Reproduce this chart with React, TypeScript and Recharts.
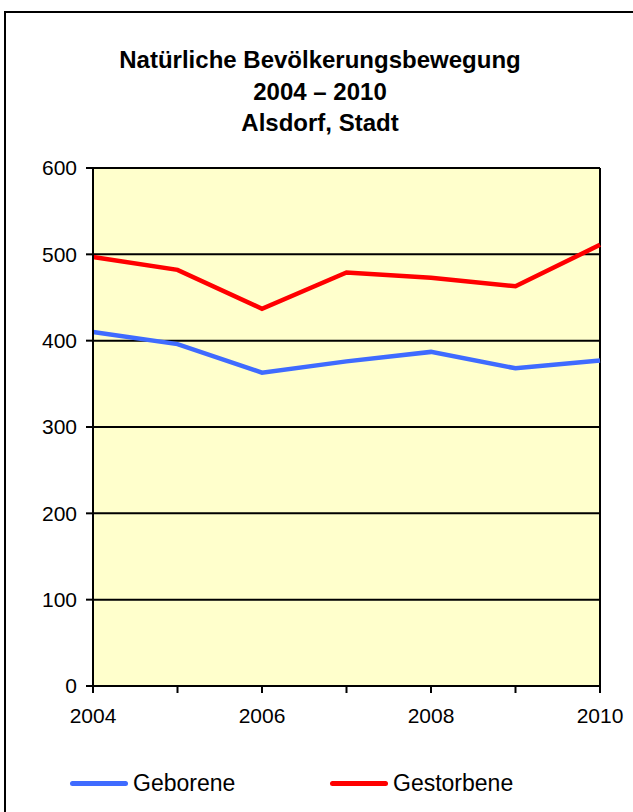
import { LineChart, Line, XAxis, YAxis, CartesianGrid, ReferenceLine, Legend } from "recharts";

const years = [2004, 2005, 2006, 2007, 2008, 2009, 2010];
const geborene = [410, 396, 363, 376, 387, 368, 377];
const gestorbene = [497, 482, 437, 479, 473, 463, 511];
const yTicks = [0, 100, 200, 300, 400, 500, 600];
const titleLines = ["Natürliche Bevölkerungsbewegung", "2004 – 2010", "Alsdorf, Stadt"];

const seriesInfo = [
  { key: "geborene", name: "Geborene", color: "#3F6BFF" },
  { key: "gestorbene", name: "Gestorbene", color: "#FF0000" },
];

const data = years.map((year, i) => ({
  year,
  geborene: geborene[i],
  gestorbene: gestorbene[i],
}));

const FONT = '"Liberation Sans", Arial, sans-serif';

// legend drawn in the bottom band, two entries side by side
const LegendContent = () => (
  <div style={{ position: "relative", height: 30, fontFamily: FONT, fontSize: 23 }}>
    {seriesInfo.map((s, i) => (
      <div
        key={s.key}
        style={{
          position: "absolute",
          left: i === 0 ? 70 : 330,
          top: 0,
          display: "flex",
          alignItems: "center",
          height: 30,
        }}
      >
        <span
          style={{
            display: "inline-block",
            width: 58,
            height: 5,
            borderRadius: 3,
            background: s.color,
            marginRight: 5,
          }}
        />
        <span style={{ color: "#000" }}>{s.name}</span>
      </div>
    ))}
  </div>
);

export default function App() {
  return (
    <div style={{ position: "absolute", left: 0, top: 0, width: 633, height: 812, overflow: "hidden", background: "#fff" }}>
      {/* outer frame: only top and left edges fall inside the picture */}
      <div style={{ position: "absolute", left: 4, top: 11, width: 629, height: 2, background: "#000", zIndex: 2 }} />
      <div style={{ position: "absolute", left: 4, top: 11, width: 2, height: 801, background: "#000", zIndex: 2 }} />
      <div
        style={{
          position: "absolute",
          left: 0,
          top: 44,
          width: 640,
          textAlign: "center",
          fontFamily: FONT,
          fontWeight: "bold",
          fontSize: 24,
          lineHeight: "31.5px",
          color: "#000",
        }}
      >
        {titleLines.map((t) => (
          <div key={t}>{t}</div>
        ))}
      </div>
      <div style={{ position: "absolute", left: 0, top: 0 }}>
        <LineChart width={633} height={812} data={data} margin={{ top: 168, right: 33, left: 33, bottom: 86 }}>
          <CartesianGrid vertical={false} stroke="#000" strokeWidth={2} fill="#FFFFCC" fillOpacity={1} />
          <XAxis
            type="number"
            dataKey="year"
            domain={[2004, 2010]}
            ticks={years}
            tickFormatter={(v: number) => (v % 2 === 0 ? String(v) : "")}
            height={40}
            tickSize={7}
            tickMargin={15}
            axisLine={{ stroke: "#000", strokeWidth: 2 }}
            tickLine={{ stroke: "#000", strokeWidth: 2 }}
            tick={{ fill: "#000", fontSize: 21, fontFamily: FONT }}
          />
          <YAxis
            domain={[0, 600]}
            ticks={yTicks}
            width={60}
            tickSize={7}
            tickMargin={9}
            axisLine={{ stroke: "#000", strokeWidth: 2 }}
            tickLine={{ stroke: "#000", strokeWidth: 2 }}
            tick={{ fill: "#000", fontSize: 21, fontFamily: FONT }}
          />
          <ReferenceLine x={2010} stroke="#000" strokeWidth={2} />
          <Legend
            layout="horizontal"
            verticalAlign="middle"
            align="center"
            content={<LegendContent />}
            wrapperStyle={{ top: 768, left: 0, width: 633 }}
          />
          {seriesInfo.map((s) => (
            <Line
              key={s.key}
              type="linear"
              dataKey={s.key}
              name={s.name}
              stroke={s.color}
              strokeWidth={4.5}
              dot={false}
              isAnimationActive={false}
            />
          ))}
        </LineChart>
      </div>
    </div>
  );
}
